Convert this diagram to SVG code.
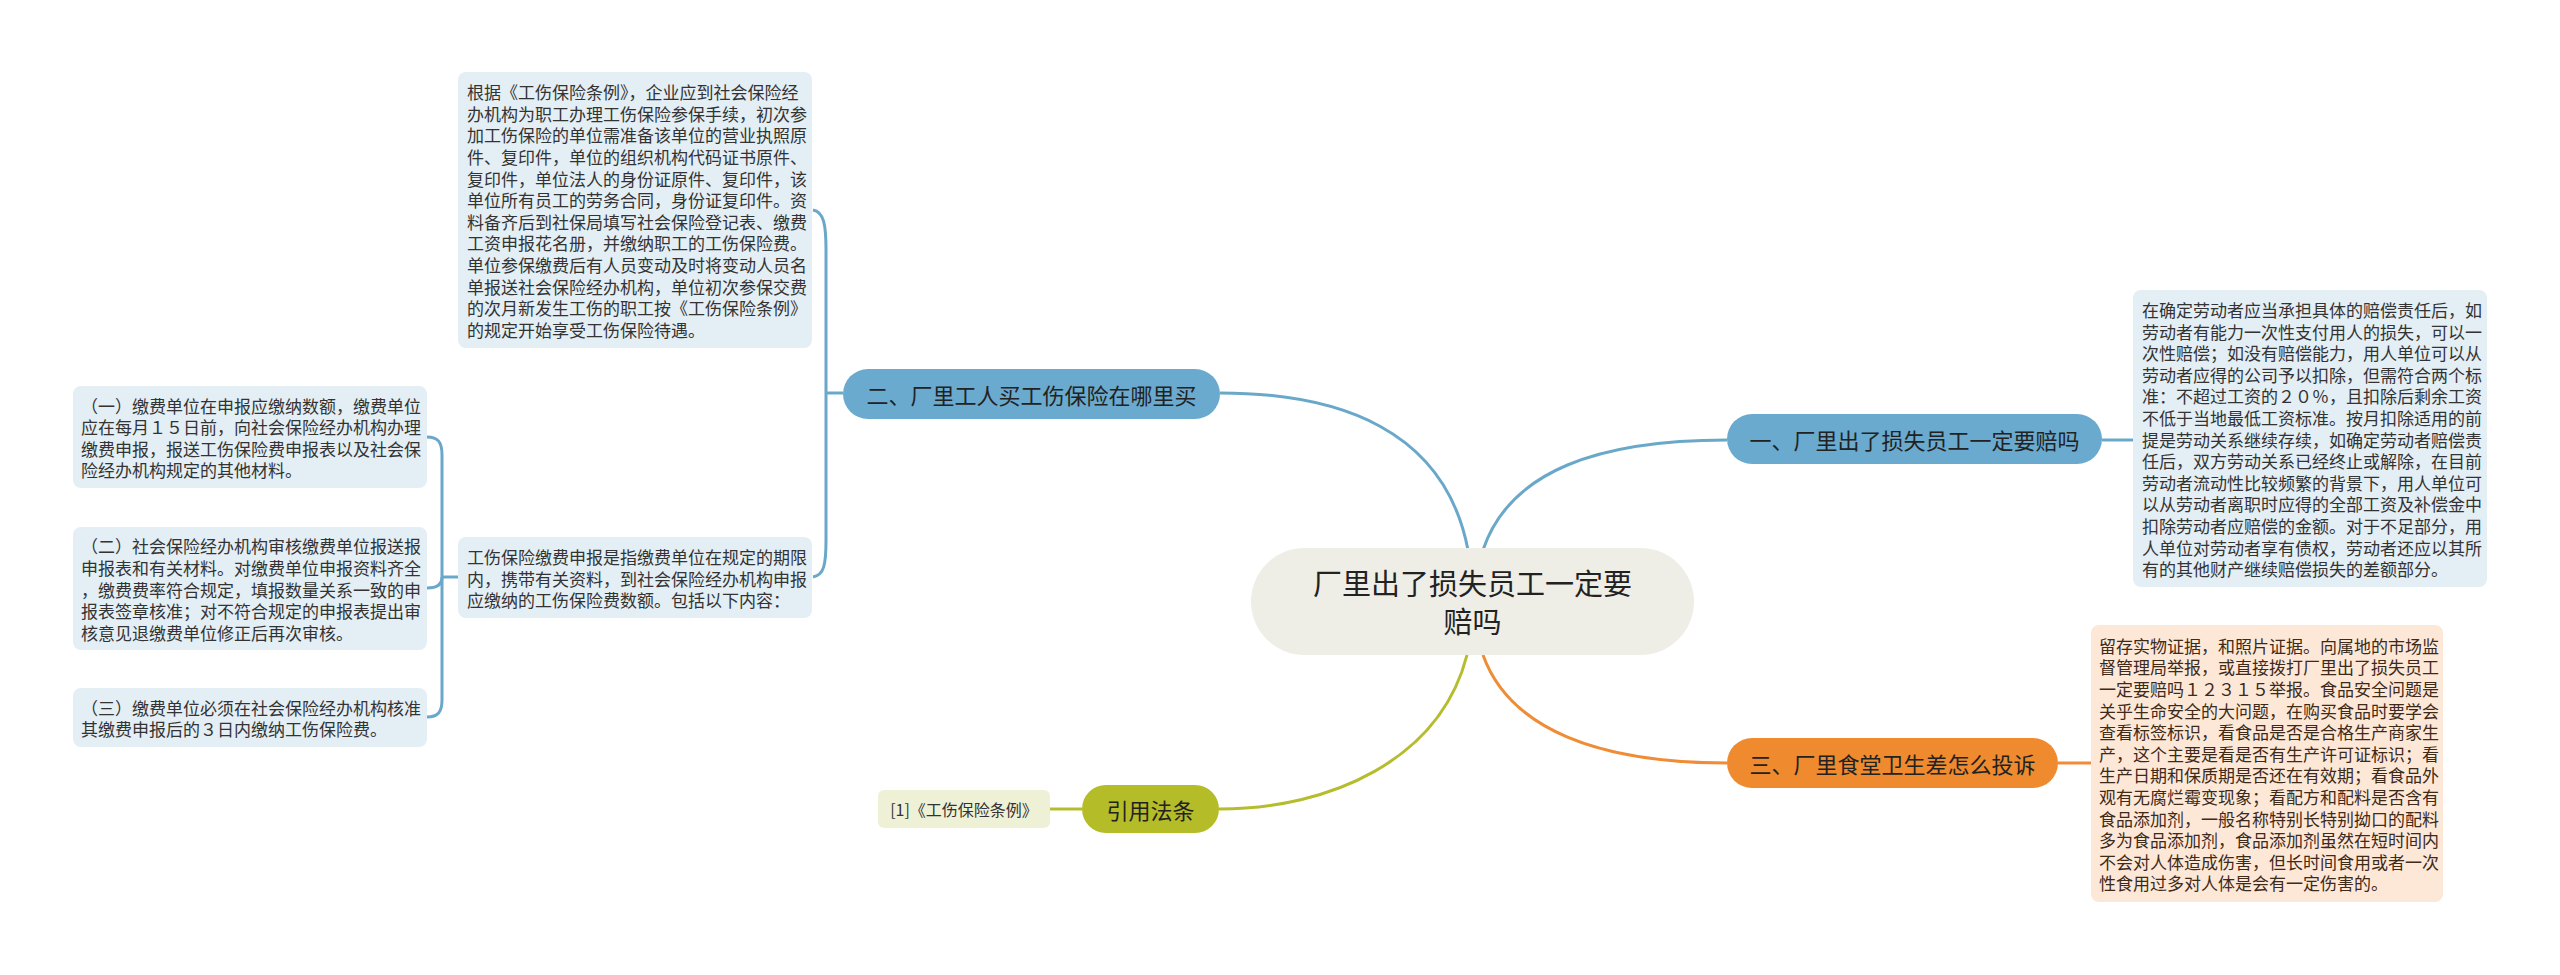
<svg xmlns="http://www.w3.org/2000/svg" width="2560" height="975" viewBox="0 0 2560 975">
<style>
text{font-family:"Noto Sans CJK SC","Noto Sans",sans-serif;}
.d{font-size:17px;fill:#333333;dominant-baseline:central;}
.do{font-size:17px;fill:#3d2a18;dominant-baseline:central;}
.b{font-size:22px;fill:#222222;dominant-baseline:central;text-anchor:middle;}
.t{font-size:29px;fill:#222222;dominant-baseline:central;text-anchor:middle;}
.box{fill:#e3eef5;}
.blue{fill:#6aaacf;}
.cb{fill:none;stroke:#6aa8c9;stroke-width:3;}
.co{fill:none;stroke:#ef8c35;stroke-width:3;}
.cg{fill:none;stroke:#b5bd2e;stroke-width:3;}
</style>
<rect width="2560" height="975" fill="#ffffff"/>
<g id="connectors">
<path class="cb" d="M1468,550 C1445,430 1340,393 1220,393"/>
<path class="cb" d="M1483,550 C1510,470 1600,440 1727,440"/>
<path class="cg" d="M1467,655 C1440,760 1330,809 1219,809"/>
<path class="co" d="M1483,655 C1510,730 1600,763 1727,763"/>
<path class="cb" d="M2102,440 L2133,440"/>
<path class="co" d="M2058,763 L2091,763"/>
<path class="cg" d="M1082,809 L1050,809"/>
<path class="cb" d="M843,393 L826,393"/>
<path class="cb" d="M813,210 C824,212 826,225 826,250 L826,540 C826,565 824,575 813,577"/>
<path class="cb" d="M458,577 L442,577"/>
<path class="cb" d="M427,437 C438,437 442,442 442,455 L442,700 C442,712 438,717 427,717"/>
<path class="cb" d="M427,588 C438,588 442,584 442,577"/>
</g>
<g id="center">
<rect x="1251" y="548" width="443" height="107" rx="53.5" fill="#eeede6"/>
<text class="t" x="1472.5" y="582">厂里出了损失员工一定要</text>
<text class="t" x="1472.5" y="620">赔吗</text>
</g>
<g id="branch2">
<rect class="blue" x="843" y="369" width="377" height="50" rx="25"/>
<text class="b" x="1031.5" y="394">二、厂里工人买工伤保险在哪里买</text>
</g>
<g id="branch1">
<rect class="blue" x="1727" y="414" width="375" height="50" rx="25"/>
<text class="b" x="1914.5" y="439">一、厂里出了损失员工一定要赔吗</text>
</g>
<g id="branch3">
<rect x="1727" y="738" width="331" height="50" rx="25" fill="#f08a2e"/>
<text class="b" x="1892.5" y="763">三、厂里食堂卫生差怎么投诉</text>
</g>
<g id="branch4">
<rect x="1082" y="785" width="137" height="48" rx="24" fill="#b4bc28"/>
<text class="b" x="1150.5" y="809">引用法条</text>
</g>
<g id="ref">
<rect x="878" y="790" width="172" height="38" rx="6" fill="#eff1d7"/>
<text x="964" y="809" style="font-size:16px;fill:#333;dominant-baseline:central;text-anchor:middle;">[1]《工伤保险条例》</text>
</g>
<g id="detail-top">
<rect class="box" x="458" y="72" width="354" height="276" rx="8"/>
<text class="d">
<tspan x="467" y="91.2">根据《工伤保险条例》，企业应到社会保险经</tspan>
<tspan x="467" y="112.8">办机构为职工办理工伤保险参保手续，初次参</tspan>
<tspan x="467" y="134.4">加工伤保险的单位需准备该单位的营业执照原</tspan>
<tspan x="467" y="156">件、复印件，单位的组织机构代码证书原件、</tspan>
<tspan x="467" y="177.6">复印件，单位法人的身份证原件、复印件，该</tspan>
<tspan x="467" y="199.2">单位所有员工的劳务合同，身份证复印件。资</tspan>
<tspan x="467" y="220.8">料备齐后到社保局填写社会保险登记表、缴费</tspan>
<tspan x="467" y="242.4">工资申报花名册，并缴纳职工的工伤保险费。</tspan>
<tspan x="467" y="264">单位参保缴费后有人员变动及时将变动人员名</tspan>
<tspan x="467" y="285.6">单报送社会保险经办机构，单位初次参保交费</tspan>
<tspan x="467" y="307.2">的次月新发生工伤的职工按《工伤保险条例》</tspan>
<tspan x="467" y="328.8">的规定开始享受工伤保险待遇。</tspan>
</text>
</g>
<g id="detail-mid">
<rect class="box" x="458" y="537" width="354" height="81" rx="8"/>
<text class="d">
<tspan x="467" y="556">工伤保险缴费申报是指缴费单位在规定的期限</tspan>
<tspan x="467" y="577.6">内，携带有关资料，到社会保险经办机构申报</tspan>
<tspan x="467" y="599.2">应缴纳的工伤保险费数额。包括以下内容：</tspan>
</text>
</g>
<g id="detail-l1">
<rect class="box" x="73" y="386" width="354" height="102" rx="8"/>
<text class="d">
<tspan x="81" y="404.6">（一）缴费单位在申报应缴纳数额，缴费单位</tspan>
<tspan x="81" y="426.2">应在每月１５日前，向社会保险经办机构办理</tspan>
<tspan x="81" y="447.8">缴费申报，报送工伤保险费申报表以及社会保</tspan>
<tspan x="81" y="469.4">险经办机构规定的其他材料。</tspan>
</text>
</g>
<g id="detail-l2">
<rect class="box" x="73" y="527" width="354" height="123" rx="8"/>
<text class="d">
<tspan x="81" y="545.3">（二）社会保险经办机构审核缴费单位报送报</tspan>
<tspan x="81" y="566.9">申报表和有关材料。对缴费单位申报资料齐全</tspan>
<tspan x="81" y="588.5">，缴费费率符合规定，填报数量关系一致的申</tspan>
<tspan x="81" y="610.1">报表签章核准；对不符合规定的申报表提出审</tspan>
<tspan x="81" y="631.7">核意见退缴费单位修正后再次审核。</tspan>
</text>
</g>
<g id="detail-l3">
<rect class="box" x="73" y="688" width="354" height="59" rx="8"/>
<text class="d">
<tspan x="81" y="706.7">（三）缴费单位必须在社会保险经办机构核准</tspan>
<tspan x="81" y="728.3">其缴费申报后的３日内缴纳工伤保险费。</tspan>
</text>
</g>
<g id="detail-r1">
<rect class="box" x="2133" y="290" width="354" height="297" rx="8"/>
<text class="d">
<tspan x="2142" y="308.9">在确定劳动者应当承担具体的赔偿责任后，如</tspan>
<tspan x="2142" y="330.5">劳动者有能力一次性支付用人的损失，可以一</tspan>
<tspan x="2142" y="352.1">次性赔偿；如没有赔偿能力，用人单位可以从</tspan>
<tspan x="2142" y="373.7">劳动者应得的公司予以扣除，但需符合两个标</tspan>
<tspan x="2142" y="395.3">准：不超过工资的２０％，且扣除后剩余工资</tspan>
<tspan x="2142" y="416.9">不低于当地最低工资标准。按月扣除适用的前</tspan>
<tspan x="2142" y="438.5">提是劳动关系继续存续，如确定劳动者赔偿责</tspan>
<tspan x="2142" y="460.1">任后，双方劳动关系已经终止或解除，在目前</tspan>
<tspan x="2142" y="481.7">劳动者流动性比较频繁的背景下，用人单位可</tspan>
<tspan x="2142" y="503.3">以从劳动者离职时应得的全部工资及补偿金中</tspan>
<tspan x="2142" y="524.9">扣除劳动者应赔偿的金额。对于不足部分，用</tspan>
<tspan x="2142" y="546.5">人单位对劳动者享有债权，劳动者还应以其所</tspan>
<tspan x="2142" y="568.1">有的其他财产继续赔偿损失的差额部分。</tspan>
</text>
</g>
<g id="detail-r3">
<rect x="2091" y="625" width="352" height="277" rx="8" fill="#fde8d8"/>
<text class="do">
<tspan x="2099" y="644.7">留存实物证据，和照片证据。向属地的市场监</tspan>
<tspan x="2099" y="666.3">督管理局举报，或直接拨打厂里出了损失员工</tspan>
<tspan x="2099" y="687.9">一定要赔吗１２３１５举报。食品安全问题是</tspan>
<tspan x="2099" y="709.5">关乎生命安全的大问题，在购买食品时要学会</tspan>
<tspan x="2099" y="731.1">查看标签标识，看食品是否是合格生产商家生</tspan>
<tspan x="2099" y="752.7">产，这个主要是看是否有生产许可证标识；看</tspan>
<tspan x="2099" y="774.3">生产日期和保质期是否还在有效期；看食品外</tspan>
<tspan x="2099" y="795.9">观有无腐烂霉变现象；看配方和配料是否含有</tspan>
<tspan x="2099" y="817.5">食品添加剂，一般名称特别长特别拗口的配料</tspan>
<tspan x="2099" y="839.1">多为食品添加剂，食品添加剂虽然在短时间内</tspan>
<tspan x="2099" y="860.7">不会对人体造成伤害，但长时间食用或者一次</tspan>
<tspan x="2099" y="882.3">性食用过多对人体是会有一定伤害的。</tspan>
</text>
</g>
</svg>
